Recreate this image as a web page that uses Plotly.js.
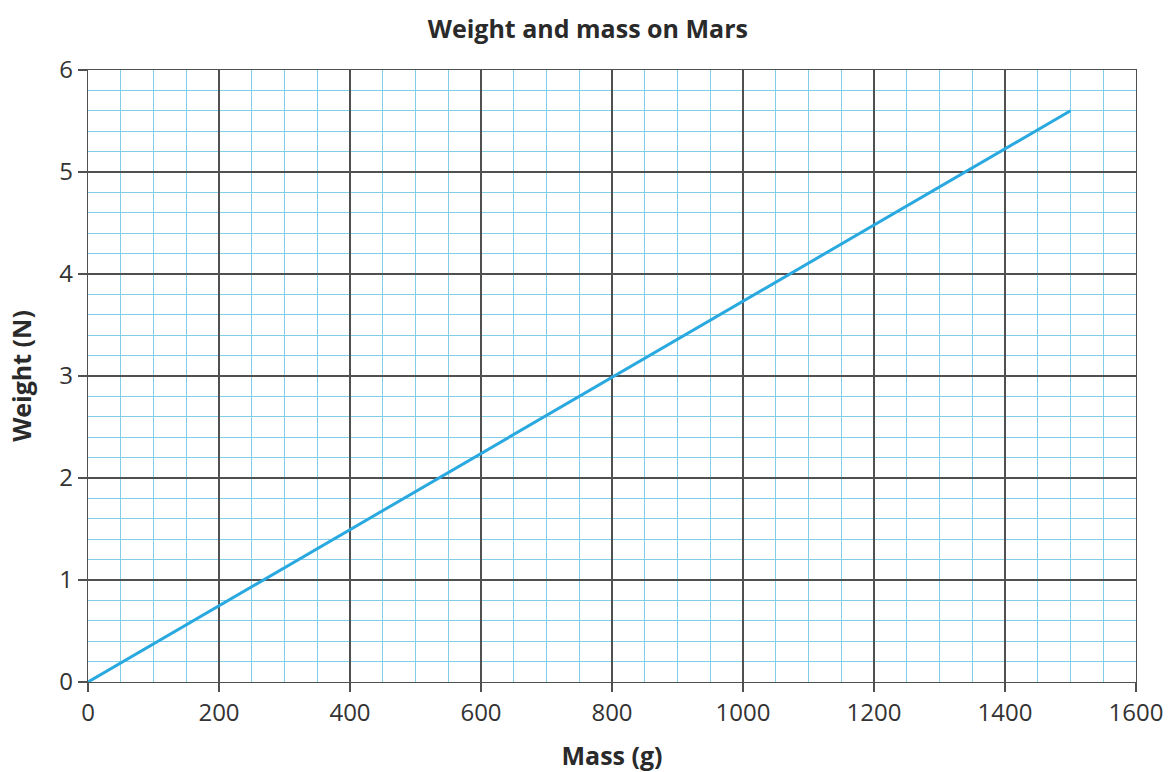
<!DOCTYPE html>
<html><head><meta charset="utf-8">
<script src="https://cdn.plot.ly/plotly-3.0.1.min.js"></script>
<style>html,body{margin:0;padding:0;background:#fff}#chart{width:1171px;height:772px}</style>
</head><body><div id="chart"></div>
<script>
const massG = [0, 1500];
const weightN = [0, 5.6];
const xTickVals = [0, 200, 400, 600, 800, 1000, 1200, 1400, 1600];
const yTickVals = [0, 1, 2, 3, 4, 5, 6];
const titleText = 'Weight and mass on Mars';
const xTitle = 'Mass (g)';
const yTitle = 'Weight (N)';

const font = '"Open Sans", "Noto Sans", sans-serif';
const majorGrid = '#505050';
const minorGrid = '#80cfe8';

Plotly.newPlot('chart', [{
  x: massG, y: weightN, type: 'scatter', mode: 'lines',
  line: {color: '#29a9df', width: 3}, hoverinfo: 'skip'
}], {
  width: 1171, height: 772,
  margin: {l: 88, r: 35, t: 70, b: 90},
  paper_bgcolor: '#fff', plot_bgcolor: '#fff',
  showlegend: false,
  title: {text: '<b>' + titleText + '</b>', x: 0.502, xanchor: 'center', y: 0.962, yanchor: 'middle',
          font: {family: font, size: 25, color: '#2a2a2a'}},
  xaxis: {
    range: [0, 1600], tickvals: xTickVals, ticktext: xTickVals.map(String),
    showgrid: true, gridcolor: majorGrid, gridwidth: 1.3,
    ticks: 'outside', ticklen: 9, tickcolor: majorGrid, tickwidth: 1.3,
    showline: true, linecolor: majorGrid, linewidth: 1.3, mirror: true,
    zeroline: false,
    minor: {dtick: 50, tick0: 0, showgrid: true, gridcolor: minorGrid, gridwidth: 1.2, ticks: ''},
    tickfont: {family: font, size: 24, color: '#333'},
    title: {text: '<b>' + xTitle + '</b>', standoff: 20, font: {family: font, size: 25, color: '#2a2a2a'}}
  },
  yaxis: {
    range: [0, 6], tickvals: yTickVals, ticktext: yTickVals.map(String),
    showgrid: true, gridcolor: majorGrid, gridwidth: 1.3,
    ticks: 'outside', ticklen: 9, tickcolor: majorGrid, tickwidth: 1.3,
    showline: true, linecolor: majorGrid, linewidth: 1.3, mirror: true,
    zeroline: false,
    minor: {dtick: 0.2, tick0: 0, showgrid: true, gridcolor: minorGrid, gridwidth: 1.2, ticks: ''},
    tickfont: {family: font, size: 24, color: '#333'},
    title: {text: '<b>' + yTitle + '</b>', standoff: 20, font: {family: font, size: 25, color: '#2a2a2a'}}
  }
}, {displayModeBar: false, staticPlot: true});
</script></body></html>
